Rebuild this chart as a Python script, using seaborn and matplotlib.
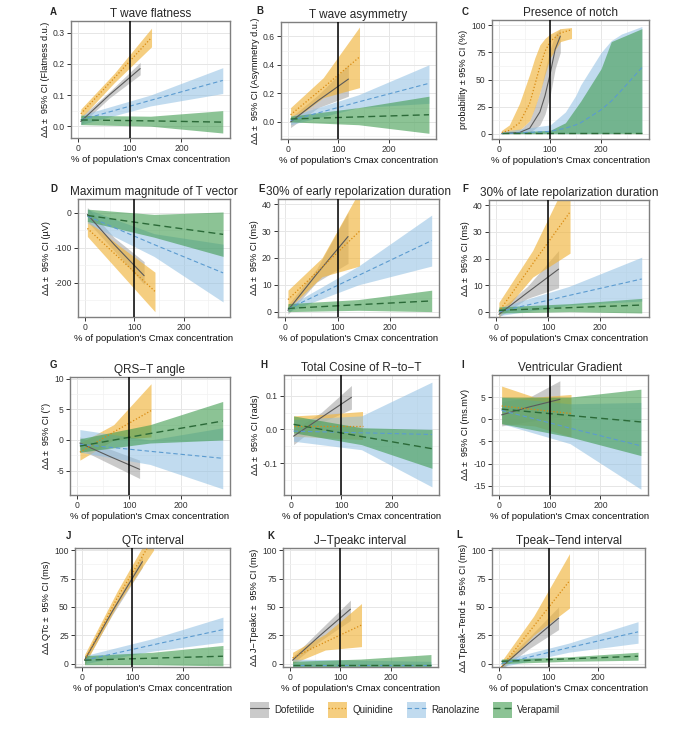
import numpy as np
import pandas as pd
import matplotlib
matplotlib.use("Agg")
import matplotlib.pyplot as plt
import seaborn as sns
from matplotlib.patches import Patch
from matplotlib.lines import Line2D
from matplotlib.ticker import FixedLocator

# ---------------- data ----------------
DRUGS = ["Dofetilide", "Quinidine", "Ranolazine", "Verapamil"]
X_DOF = [5, 60, 120]
X_QUI = [5, 70, 142]
X_RAN = [5, 140, 280]
X_VER = [5, 140, 280]

# each: [Dofetilide, Quinidine, Ranolazine, Verapamil] sampled at X_* above
A_mid = [[0.015, 0.10, 0.185], [0.04, 0.155, 0.285], [0.02, 0.083, 0.147], [0.02, 0.017, 0.013]]
A_lo = [[0.005, 0.09, 0.165], [0.025, 0.14, 0.255], [0.005, 0.065, 0.105], [0.005, 0.0, -0.022]]
A_hi = [[0.03, 0.11, 0.205], [0.055, 0.17, 0.315], [0.035, 0.10, 0.188], [0.035, 0.032, 0.05]]

B_mid = [[0.0, 0.15, 0.30], [0.05, 0.24, 0.455], [0.01, 0.14, 0.27], [0.02, 0.035, 0.05]]
B_lo = [[-0.04, 0.10, 0.18], [0.0, 0.17, 0.24], [-0.02, 0.10, 0.13], [0.0, -0.02, -0.08]]
B_hi = [[0.03, 0.19, 0.40], [0.10, 0.31, 0.665], [0.04, 0.19, 0.40], [0.04, 0.10, 0.18]]

D_mid = [[-5, -92, -180], [-45, -130, -225], [-10, -91, -172], [-8, -35, -62]]
D_lo = [[-25, -110, -205], [-68, -170, -283], [-30, -125, -255], [-25, -70, -125]]
D_hi = [[15, -72, -140], [-22, -95, -170], [10, -60, -90], [10, -5, 2]]

E_mid = [[0.5, 14, 28], [4.5, 16.5, 30], [1, 13.5, 26.5], [1.2, 2.6, 4]]
E_lo = [[-1, 11, 18], [1, 13, 17], [0, 10, 17], [0, 0.5, 0]]
E_hi = [[2.5, 16, 37], [8, 20, 45], [2, 17, 36], [3, 4.5, 8]]

F_mid = [[-1, 7.2, 16], [0, 18, 37.5], [0, 6.1, 12.3], [0.5, 1.5, 2.5]]
F_lo = [[-2, 5, 9], [-2, 13, 22], [-1.5, 2.5, 4], [-0.5, 0, -0.5]]
F_hi = [[0.5, 9.5, 23], [3.5, 23, 52], [1.5, 9.5, 20.5], [1.8, 3, 5]]

G_mid = [[-0.5, -2.6, -4.8], [-2, 1.3, 4.8], [-0.7, -1.85, -3.0], [-1, 1.05, 3.1]]
G_lo = [[-1.5, -3.8, -6.3], [-3.3, 0, 0.5], [-2, -4, -8], [-2, -0.5, 0]]
G_hi = [[0.5, -1.4, -3.3], [-0.5, 2.5, 9.2], [1.7, 0, 2], [0.2, 2.5, 6.3]]

H_mid = [[-0.02, 0.035, 0.095], [0.01, 0.01, 0.01], [-0.005, -0.01, -0.015], [0.015, -0.021, -0.057]]
H_lo = [[-0.045, 0.02, 0.06], [-0.02, -0.025, -0.03], [-0.035, -0.06, -0.17], [-0.01, -0.045, -0.115]]
H_hi = [[0.0, 0.05, 0.13], [0.04, 0.045, 0.053], [0.03, 0.04, 0.14], [0.04, 0.005, 0.0]]

I_mid = [[1, 2.8, 4.5], [3, 2.2, 1.3], [2, -2, -6], [2.3, 0.85, -0.6]]
I_lo = [[-1.5, -0.5, 0.5], [-1, -1.5, -4], [-1, -5.5, -15.8], [-1, -4, -8.2]]
I_hi = [[4, 5, 8.7], [7.5, 5, 5.6], [5, 3.5, 3.8], [5, 5, 6.8]]

J_mid = [[3, 46, 90], [3, 58, 111], [3, 16.5, 30], [3, 4.8, 6.5]]
J_lo = [[0, 43, 85], [-1, 52, 100], [0, 11, 19], [-1, -1, -2]]
J_hi = [[6, 49, 95], [8, 64, 120], [7, 22, 41], [7, 10, 16]]

K_mid = [[3, 25, 48], [5, 19, 34], [-1, -1, -1], [-1, -1, -1]]
K_lo = [[0, 20, 38], [0, 12, 15], [-4, -4, -4], [-4, -4, -4]]
K_hi = [[6, 30, 56], [10, 26, 53], [4, 3, 2], [2, 4, 8]]

L_mid = [[-3, 18, 40], [-3, 33, 73], [0, 14, 28], [2, 4.2, 6.5]]
L_lo = [[-5, 13, 30], [-5, 25, 49], [-3, 10, 18], [0, 2, 3]]
L_hi = [[0, 23, 50], [2, 42, 97], [3, 18, 37], [4, 6, 10]]

# Presence of notch (sigmoid shaped)
C_X_DOF = [5, 40, 60, 80, 90, 100, 110, 120]
C_DOF_MID = [0, 1, 5, 20, 35, 55, 78, 90]
C_DOF_LO = [0, 0, 1, 8, 18, 35, 60, 75]
C_DOF_HI = [1, 3, 12, 38, 58, 78, 92, 97]
C_X_QUI = [5, 20, 40, 60, 70, 80, 90, 100, 120, 142]
C_QUI_MID = [1, 3, 10, 28, 45, 62, 76, 85, 93, 96]
C_QUI_LO = [0, 1, 3, 12, 24, 38, 55, 70, 85, 88]
C_QUI_HI = [3, 8, 28, 55, 70, 82, 88, 92, 97, 98]
C_X_RAN = [5, 100, 130, 150, 160, 200, 220, 240, 280]
C_RAN_MID = [0, 2, 5, 8, 10, 22, 30, 40, 61]
C_RAN_LO = [0, 0, 0, 0, 0, 0, 0, 0.5, 1]
C_RAN_HI = [2, 8, 20, 35, 45, 75, 86, 92, 99]
C_X_VER = [5, 100, 130, 160, 200, 220, 280]
C_VER_MID = [1, 1, 1, 1, 1, 1, 1]
C_VER_LO = [0, 0, 0, 0, 0, 0, 0]
C_VER_HI = [1, 3, 10, 30, 60, 85, 97]

TITLES = ["T wave flatness", "T wave asymmetry", "Presence of notch",
          "Maximum magnitude of T vector", "30% of early repolarization duration",
          "30% of late repolarization duration", "QRS\u2212T angle",
          "Total Cosine of R\u2212to\u2212T", "Ventricular Gradient", "QTc interval",
          "J\u2212Tpeakc interval", "Tpeak\u2212Tend interval"]
YLABELS = ["\u0394\u0394 \u00b1  95% CI (Flatness d.u.)", "\u0394\u0394 \u00b1  95% CI (Asymmetry d.u.)",
           "probability \u00b1 95% CI (%)", "\u0394\u0394 \u00b1  95% CI (\u00b5V)",
           "\u0394\u0394 \u00b1  95% CI (ms)", "\u0394\u0394 \u00b1  95% CI (ms)",
           "\u0394\u0394 \u00b1  95% CI (\u00b0)", "\u0394\u0394 \u00b1  95% CI (rads)",
           "\u0394\u0394 \u00b1  95% CI (ms.mV)", "\u0394\u0394 QTc \u00b1  95% CI (ms)",
           "\u0394\u0394 J\u2212Tpeakc \u00b1  95% CI (ms)", "\u0394\u0394 Tpeak\u2212Tend \u00b1  95% CI (ms)"]
LETTERS = list("ABCDEFGHIJKL")
YTICKS = [[0.0, 0.1, 0.2, 0.3], [0.0, 0.2, 0.4, 0.6], [0, 25, 50, 75, 100],
          [0, -100, -200], [0, 10, 20, 30, 40], [0, 10, 20, 30, 40],
          [-5, 0, 5, 10], [-0.1, 0.0, 0.1], [-15, -10, -5, 0, 5],
          [0, 25, 50, 75, 100], [0, 25, 50, 75, 100], [0, 25, 50, 75, 100]]
YTICKLABELS = [["0.0", "0.1", "0.2", "0.3"], ["0.0", "0.2", "0.4", "0.6"],
               ["0", "25", "50", "75", "100"], ["0", "-100", "-200"],
               ["0", "10", "20", "30", "40"], ["0", "10", "20", "30", "40"],
               ["-5", "0", "5", "10"], ["-0.1", "0.0", "0.1"],
               ["-15", "-10", "-5", "0", "5"], ["0", "25", "50", "75", "100"],
               ["0", "25", "50", "75", "100"], ["0", "25", "50", "75", "100"]]
YLIMS = [(-0.038, 0.338), (-0.12, 0.70), (-5, 105), (-298, 39), (-2, 42), (-2, 42),
         (-9, 10.3), (-0.194, 0.161), (-17.1, 10), (-3, 102), (-3, 102), (-3, 102)]
XTICKS = [0, 100, 200]

# ---------------- style ----------------
sns.set_theme(style="white")
plt.rcParams["font.family"] = ["Liberation Sans", "DejaVu Sans"]

FILL = {"Dofetilide": "#a0a0a0", "Quinidine": "#f0b43c", "Ranolazine": "#8fbfe2", "Verapamil": "#3f9b4f"}
FILL_A = {"Dofetilide": 0.55, "Quinidine": 0.65, "Ranolazine": 0.55, "Verapamil": 0.6}
LINE = {"Dofetilide": "#5a5a5a", "Quinidine": "#d98a10", "Ranolazine": "#5b9bd0", "Verapamil": "#2b6a38"}
DASH = {"Dofetilide": "", "Quinidine": (1, 1.6), "Ranolazine": (4, 2.5), "Verapamil": (5, 3)}
LW = {"Dofetilide": 0.8, "Quinidine": 0.9, "Ranolazine": 0.8, "Verapamil": 1.0}

W, H = 690, 744
fig = plt.figure(figsize=(W / 100, H / 100), dpi=100)

# axes boxes in pixels: left, right, top, bottom
BOXES = [(71, 230, 21, 138), (281, 436, 22, 139), (492, 649, 20, 139),
         (78, 230, 199, 317), (278, 439, 199, 317), (489, 649, 200, 317),
         (70, 230, 377, 495), (284, 439, 375, 495), (492, 648, 375, 495),
         (75, 230, 548, 667), (283, 438, 548, 667), (492, 645, 548, 667)]
LETTER_POS = [(50, 12), (256, 11), (462, 12), (50, 189), (258, 189), (462, 189),
              (50, 365), (260, 365), (461, 365), (66, 536), (267, 536), (456, 535)]

XS = [X_DOF, X_QUI, X_RAN, X_VER]
PANELS = [(A_mid, A_lo, A_hi), (B_mid, B_lo, B_hi), None, (D_mid, D_lo, D_hi),
          (E_mid, E_lo, E_hi), (F_mid, F_lo, F_hi), (G_mid, G_lo, G_hi),
          (H_mid, H_lo, H_hi), (I_mid, I_lo, I_hi), (J_mid, J_lo, J_hi),
          (K_mid, K_lo, K_hi), (L_mid, L_lo, L_hi)]
C_SERIES = [(C_X_DOF, C_DOF_MID, C_DOF_LO, C_DOF_HI), (C_X_QUI, C_QUI_MID, C_QUI_LO, C_QUI_HI),
            (C_X_RAN, C_RAN_MID, C_RAN_LO, C_RAN_HI), (C_X_VER, C_VER_MID, C_VER_LO, C_VER_HI)]

for i in range(12):
    l, r, t, b = BOXES[i]
    ax = fig.add_axes([l / W, 1 - b / H, (r - l) / W, (b - t) / H])
    rows = []
    ribbons = []
    for k, d in enumerate(DRUGS):
        if PANELS[i] is None:
            xs, mid, lo, hi = C_SERIES[k]
        else:
            xs = XS[k]
            mid, lo, hi = PANELS[i][0][k], PANELS[i][1][k], PANELS[i][2][k]
        ribbons.append((d, xs, lo, hi))
        for xv, yv in zip(xs, mid):
            rows.append({"x": xv, "y": yv, "drug": d})
    df = pd.DataFrame(rows)
    for d, xs, lo, hi in ribbons:
        ax.fill_between(xs, lo, hi, color=FILL[d], alpha=FILL_A[d], linewidth=0, zorder=2)
    for d in DRUGS:
        sub = df[df.drug == d]
        sns.lineplot(data=sub, x="x", y="y", color=LINE[d], dashes=False, ax=ax,
                     linewidth=LW[d], estimator=None, sort=True, legend=False, zorder=3,
                     linestyle=(0, DASH[d]) if DASH[d] else "-")
    ax.axvline(100, color="black", linewidth=1.1, zorder=4)
    ax.set_xlim(-14, 294)
    ax.set_ylim(*YLIMS[i])
    ax.set_xticks(XTICKS)
    ax.set_xticklabels([str(v) for v in XTICKS])
    ax.set_yticks(YTICKS[i])
    ax.set_yticklabels(YTICKLABELS[i])
    yt = sorted(YTICKS[i])
    step = yt[1] - yt[0]
    ax.xaxis.set_minor_locator(FixedLocator([-50, 50, 150, 250]))
    ax.yaxis.set_minor_locator(FixedLocator([v + step / 2 for v in [yt[0] - step] + yt]))
    ax.grid(True, which="major", color="#e6e6e6", linewidth=0.7, zorder=0)
    ax.grid(True, which="minor", color="#f2f2f2", linewidth=0.5, zorder=0)
    ax.set_axisbelow(True)
    for s in ax.spines.values():
        s.set_color("#7f7f7f")
        s.set_linewidth(1.0)
    ax.tick_params(axis="both", which="major", length=3, width=0.7, color="#333333",
                   labelsize=6.2, labelcolor="#333333", pad=1.5, bottom=True, left=True)
    ax.tick_params(axis="both", which="minor", length=0)
    ax.set_xlabel("% of population's Cmax concentration", fontsize=6.8, labelpad=1, color="#111111")
    ax.set_ylabel(YLABELS[i], fontsize=6.6, labelpad=2, color="#111111")
    ax.set_title(TITLES[i], fontsize=8.5, pad=3)
    lx, ly = LETTER_POS[i]
    fig.text(lx / W, 1 - ly / H, LETTERS[i], fontsize=7, fontweight="bold", ha="left", va="center")

handles = []
for d in DRUGS:
    handles.append((Patch(facecolor=FILL[d], alpha=FILL_A[d], edgecolor="none"),
                    Line2D([0], [0], color=LINE[d], linewidth=LW[d],
                           linestyle=(0, DASH[d]) if DASH[d] else "-")))
fig.legend(handles, DRUGS, loc="center", bbox_to_anchor=(405 / W, 1 - 710 / H), ncol=4,
           frameon=False, fontsize=7, handlelength=2.0, handleheight=2.0,
           columnspacing=1.4, handletextpad=0.5)

fig.savefig("out.png", dpi=100)
